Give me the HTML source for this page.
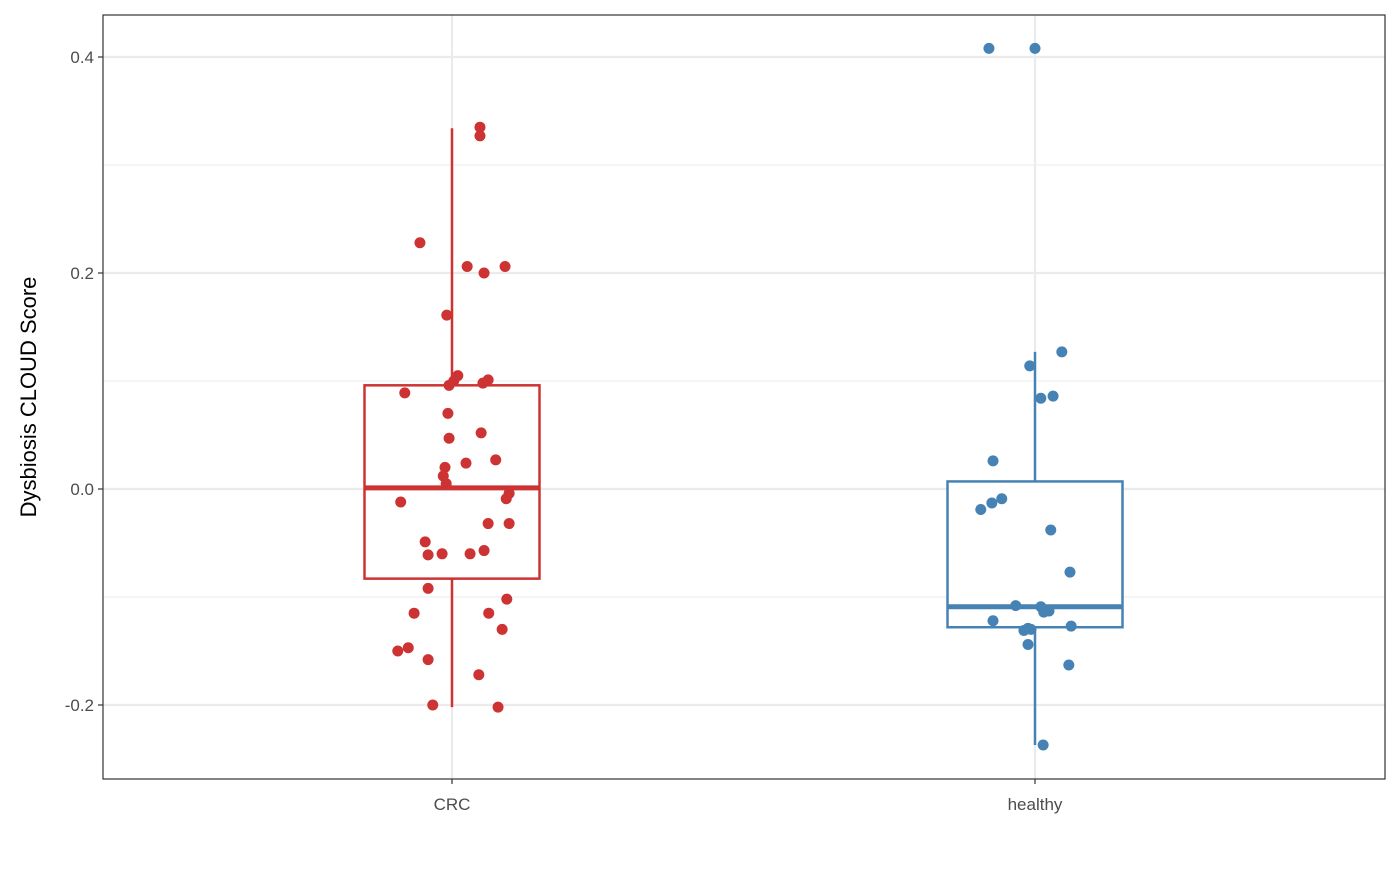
<!DOCTYPE html>
<html><head><meta charset="utf-8"><style>
body{margin:0;background:#fff;}
svg text{font-family:"Liberation Sans",Arial,sans-serif;}
</style></head><body>
<svg id="chart" width="1400" height="865" xmlns="http://www.w3.org/2000/svg"></svg>
<script>
const categories = ["CRC","healthy"];
const colors = ["#CD3333","#4682B4"];
const yTicks = [-0.2,0.0,0.2,0.4];
const yTickLabels = ["-0.2","0.0","0.2","0.4"];
const yMinor = [-0.1,0.1,0.3];
// box stats: [lowWhisker, q1, median, q3, highWhisker]
const crcBox = [-0.202,-0.083,0.001,0.096,0.334];
const healthyBox = [-0.237,-0.128,-0.109,0.007,0.127];
// points: values and jitter (category units)
const crcValues = [0.335,0.327,0.228,0.206,0.206,0.200,0.161,0.105,0.100,0.096,0.101,0.098,0.089,0.070,0.052,0.047,0.027,0.024,0.020,0.012,0.005,-0.004,-0.009,-0.012,-0.032,-0.032,-0.049,-0.057,-0.061,-0.060,-0.060,-0.092,-0.102,-0.115,-0.115,-0.130,-0.147,-0.150,-0.158,-0.172,-0.200,-0.202];
const crcJitter = [0.048,0.048,-0.055,0.026,0.091,0.055,-0.009,0.010,0.003,-0.005,0.062,0.053,-0.081,-0.007,0.050,-0.005,0.075,0.024,-0.012,-0.015,-0.010,0.098,0.093,-0.088,0.062,0.098,-0.046,0.055,-0.041,-0.017,0.031,-0.041,0.094,-0.065,0.063,0.086,-0.075,-0.093,-0.041,0.046,-0.033,0.079];
const healthyValues = [0.408,0.408,0.127,0.114,0.086,0.084,0.026,-0.009,-0.013,-0.019,-0.038,-0.077,-0.108,-0.109,-0.113,-0.114,-0.122,-0.127,-0.129,-0.130,-0.131,-0.144,-0.163,-0.237];
const healthyJitter = [-0.079,0.000,0.046,-0.009,0.031,0.010,-0.072,-0.057,-0.074,-0.093,0.027,0.060,-0.033,0.010,0.024,0.015,-0.072,0.062,-0.012,-0.007,-0.019,-0.012,0.058,0.014];

const svg=document.getElementById('chart');
const NS="http://www.w3.org/2000/svg";
const L=103,R=1385,T=15,B=779;
const yPix=v=>489-v*1080;
const xPix=i=>452+i*583;
function mk(tag,attrs,parent){const e=document.createElementNS(NS,tag);for(const k in attrs)e.setAttribute(k,attrs[k]);(parent||svg).appendChild(e);return e;}
// minor grid
yMinor.forEach(v=>{const l=mk('line',{x1:L,x2:R,y1:yPix(v),y2:yPix(v),stroke:'#ebebeb','stroke-width':1.1});

});
yTicks.forEach(v=>{const l=mk('line',{x1:L,x2:R,y1:yPix(v),y2:yPix(v),stroke:'#ebebeb','stroke-width':2.2});

});
categories.forEach((c,i)=>{const l=mk('line',{x1:xPix(i),x2:xPix(i),y1:T,y2:B,stroke:'#ebebeb','stroke-width':2.2});

});
// boxes
[crcBox,healthyBox].forEach((b,i)=>{
 const g=mk('g',{});
 
 
 const cx=xPix(i),hw=87.5,col=colors[i];
 mk('line',{x1:cx,x2:cx,y1:yPix(b[4]),y2:yPix(b[3]),stroke:col,'stroke-width':2.5},g);
 mk('line',{x1:cx,x2:cx,y1:yPix(b[1]),y2:yPix(b[0]),stroke:col,'stroke-width':2.5},g);
 mk('rect',{x:cx-hw,y:yPix(b[3]),width:hw*2,height:yPix(b[1])-yPix(b[3]),fill:'#fff',stroke:col,'stroke-width':2.5},g);
 mk('line',{x1:cx-hw,x2:cx+hw,y1:yPix(b[2]),y2:yPix(b[2]),stroke:col,'stroke-width':5},g);
});
// points
[[crcValues,crcJitter],[healthyValues,healthyJitter]].forEach((s,i)=>{
 s[0].forEach((v,j)=>{const p=mk('circle',{cx:xPix(i+s[1][j]),cy:yPix(v),r:5.5,fill:colors[i]});
 
 });
});
// panel border
const bd=mk('rect',{x:L,y:T,width:R-L,height:B-T,fill:'none',stroke:'#333','stroke-width':1.2});


// y ticks
yTicks.forEach((v,k)=>{mk('line',{x1:L-5,x2:L,y1:yPix(v),y2:yPix(v),stroke:'#333','stroke-width':1.2});
 const t=mk('text',{x:L-9,y:yPix(v)+6,'text-anchor':'end','font-size':17,fill:'#4d4d4d'});t.textContent=yTickLabels[k];
 
 });
categories.forEach((c,i)=>{mk('line',{x1:xPix(i),x2:xPix(i),y1:B,y2:B+5,stroke:'#333','stroke-width':1.2});
 const t=mk('text',{x:xPix(i),y:B+31,'text-anchor':'middle','font-size':17,fill:'#4d4d4d'});t.textContent=c;
 
 });
const yt=mk('text',{x:0,y:0,transform:'translate(36,397) rotate(-90)','text-anchor':'middle','font-size':22,fill:'#000'});
yt.textContent='Dysbiosis CLOUD Score';


</script>
</body></html>
